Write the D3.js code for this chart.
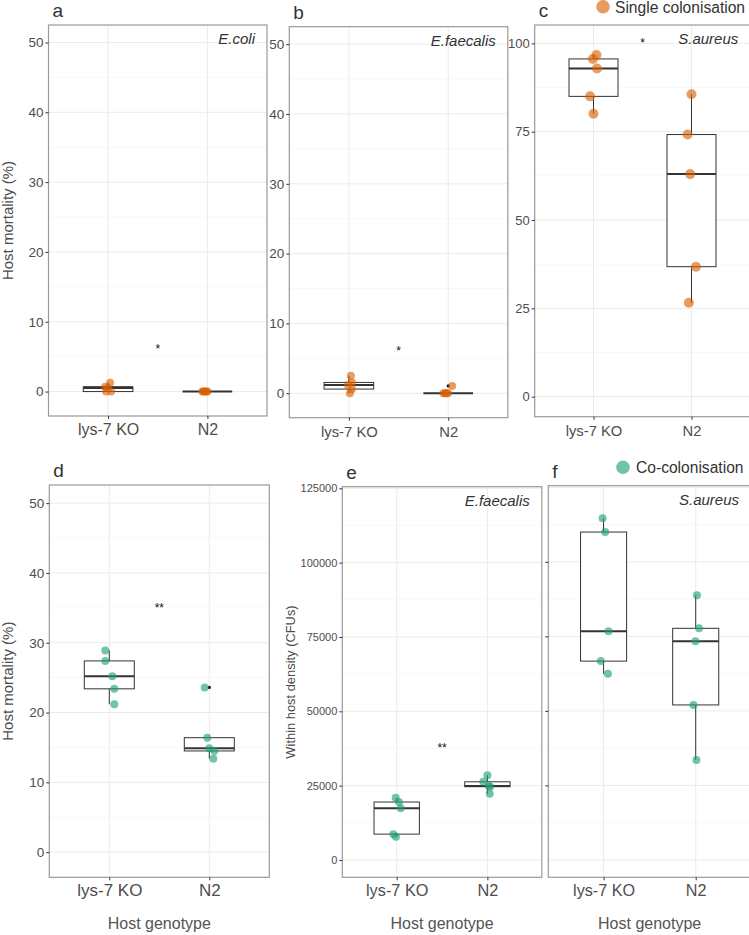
<!DOCTYPE html>
<html>
<head>
<meta charset="utf-8">
<script src="https://cdn.jsdelivr.net/npm/d3@7"></script>
<style>
  body { margin: 0; background: #fff; }
  svg { display: block; font-family: "Liberation Sans", Arial, sans-serif; }
</style>
</head>
<body>
<div id="container"></div>
<script>
// Categories
const genotypes = ["lys-7 KO", "N2"];

// Single colonisation, host mortality (%)
const ecoliKO = [0, 0, 0.5, 0.7, 1.25];
const ecoliN2 = [0, 0, 0, 0, 0];
const efaecalisKO = [0, 0.6, 1.2, 1.55, 2.5];
const efaecalisN2 = [0, 0, 0, 0, 1.05];
const saureusKO = [80.1, 85.0, 92.9, 95.6, 96.7];
const saureusN2 = [26.6, 36.8, 63.0, 74.2, 85.6];

// Co-colonisation
const coMortKO = [21.2, 23.4, 25.2, 27.4, 28.9];
const coMortN2 = [13.4, 14.5, 14.9, 16.4, 23.6];
const coEfaecalisKO = [7800, 8700, 17400, 19500, 20900];
const coEfaecalisN2 = [22300, 24650, 24900, 26300, 28500];
const coSaureusKO = [62450, 66700, 76700, 110000, 114600];
const coSaureusN2 = [33500, 52000, 73400, 77700, 88800];

// Horizontal jitter of each point (in category units), same order as values
const jitEcoliKO = [-0.02, 0.03, 0.0, -0.03, 0.02];
const jitEcoliN2 = [-0.05, -0.03, -0.01, 0.0, -0.04];
const jitEfaecalisKO = [0.01, 0.03, -0.01, 0.03, 0.02];
const jitEfaecalisN2 = [-0.05, -0.03, -0.02, 0.0, 0.04];
const jitSaureusKO = [0, -0.035, 0.035, -0.006, 0.03];
const jitSaureusN2 = [-0.027, 0.045, -0.013, -0.04, 0];
const jitCoMortKO = [0.05, 0.05, 0.03, -0.04, -0.04];
const jitCoMortN2 = [0.04, 0.05, 0, -0.02, -0.046];
const jitCoEfKO = [-0.008, -0.037, 0.044, 0.025, -0.011];
const jitCoEfN2 = [0.026, 0.03, 0.015, -0.044, 0];
const jitCoSaKO = [0.047, -0.03, 0.054, 0.017, -0.011];
const jitCoSaN2 = [0.008, -0.025, -0.003, 0.036, 0.014];

// Tick values
const mortTicks = [0, 10, 20, 30, 40, 50];
const saureusTicks = [0, 25, 50, 75, 100];
const cfuTicks = [0, 25000, 50000, 75000, 100000, 125000];

// Significance labels (text, y value)
const sigText = ["*", "*", "*", "**", "**"];
const sigY = [6.4, 6.4, 100.8, 35.4, 38400];

const width = 749;
const height = 935;

const orange = "#D95F02";
const green = "#1B9E77";

const svg = d3
  .select("#container")
  .append("svg")
  .attr("width", width)
  .attr("height", height);

// Panel definitions (layout + which data to draw)
const panels = [
  { tag: "a", x0: 48.5, x1: 267, y0: 25, y1: 416, domain: [-3.5, 52.5], ticks: mortTicks,
    ko: ecoliKO, n2: ecoliN2, jko: jitEcoliKO, jn2: jitEcoliN2, color: orange, r: 4,
    species: "E.coli", sig: 0, yTitle: "Host mortality (%)", tickFont: 13.5, catFont: 16 },
  { tag: "b", x0: 289.3, x1: 507.8, y0: 26.7, y1: 417.7, domain: [-3.5, 52.5], ticks: mortTicks,
    ko: efaecalisKO, n2: efaecalisN2, jko: jitEfaecalisKO, jn2: jitEfaecalisN2, color: orange, r: 4,
    species: "E.faecalis", sig: 1, tickFont: 13.5, catFont: 14.8 },
  { tag: "c", x0: 534.7, x1: 750.3, y0: 25, y1: 416.7, domain: [-5.66, 105.2], ticks: saureusTicks,
    ko: saureusKO, n2: saureusN2, jko: jitSaureusKO, jn2: jitSaureusN2, color: orange, r: 5,
    species: "S.aureus", sig: 2, tickFont: 13, catFont: 14.8 },
  { tag: "d", x0: 49.3, x1: 269.3, y0: 485, y1: 877.3, domain: [-3.6, 52.6], ticks: mortTicks,
    ko: coMortKO, n2: coMortN2, jko: jitCoMortKO, jn2: jitCoMortN2, color: green, r: 4,
    sig: 3, yTitle: "Host mortality (%)", tickFont: 13.5, catFont: 17, xTitle: true },
  { tag: "e", x0: 342.3, x1: 541.8, y0: 486.7, y1: 877.3, domain: [-5818, 125540], ticks: cfuTicks,
    ko: coEfaecalisKO, n2: coEfaecalisN2, jko: jitCoEfKO, jn2: jitCoEfN2, color: green, r: 4,
    species: "E.faecalis", sig: 4, yTitle: "Within host density (CFUs)", tickFont: 11, catFont: 16.3,
    xTitle: true },
  { tag: "f", x0: 548.3, x1: 751, y0: 485.7, y1: 877.3, domain: [-5818, 125540], ticks: cfuTicks,
    ko: coSaureusKO, n2: coSaureusN2, jko: jitCoSaKO, jn2: jitCoSaN2, color: green, r: 4,
    species: "S.aureus", noLabels: true, catFont: 16.2, xTitle: true },
];

const boxStats = (vals) => {
  const s = vals.slice().sort(d3.ascending);
  const q1 = d3.quantile(s, 0.25);
  const med = d3.quantile(s, 0.5);
  const q3 = d3.quantile(s, 0.75);
  const iqr = q3 - q1;
  const lo = d3.min(s.filter((v) => v >= q1 - 1.5 * iqr));
  const hi = d3.max(s.filter((v) => v <= q3 + 1.5 * iqr));
  const out = s.filter((v) => v < q1 - 1.5 * iqr || v > q3 + 1.5 * iqr);
  return { q1, med, q3, lo, hi, out };
};

panels.forEach((p) => {
  const g = svg.append("g");

  const x = d3.scaleLinear().domain([0.4, 2.6]).range([p.x0, p.x1]);
  const y = d3.scaleLinear().domain(p.domain).range([p.y1, p.y0]);
  const catX = (i) => x(i + 1);

  // clip path so marks stay in the panel
  const clipId = "clip-" + p.tag;
  svg.append("clipPath").attr("id", clipId)
    .append("rect").attr("x", p.x0).attr("y", p.y0)
    .attr("width", p.x1 - p.x0).attr("height", p.y1 - p.y0);

  const inner = g.append("g").attr("clip-path", `url(#${clipId})`);

  // Minor gridlines
  const minor = d3.pairs(p.ticks).map(([a, b]) => (a + b) / 2);
  inner.selectAll(".minor").data(minor).enter().append("line")
    .attr("x1", p.x0).attr("x2", p.x1)
    .attr("y1", (d) => y(d)).attr("y2", (d) => y(d))
    .attr("stroke", "#f3f3f3").attr("stroke-width", 0.6);

  // Major gridlines
  inner.selectAll(".major").data(p.ticks).enter().append("line")
    .attr("x1", p.x0).attr("x2", p.x1)
    .attr("y1", (d) => y(d)).attr("y2", (d) => y(d))
    .attr("stroke", "#ebebeb").attr("stroke-width", 1);
  inner.selectAll(".vmajor").data(genotypes).enter().append("line")
    .attr("x1", (d, i) => catX(i)).attr("x2", (d, i) => catX(i))
    .attr("y1", p.y0).attr("y2", p.y1)
    .attr("stroke", "#ebebeb").attr("stroke-width", 1);

  // Boxplots
  [p.ko, p.n2].forEach((vals, i) => {
    const st = boxStats(vals);
    const cx = catX(i);
    const hw = (x(1.25) - x(1)) ;
    inner.append("line")
      .attr("x1", cx).attr("x2", cx)
      .attr("y1", y(st.hi)).attr("y2", y(st.q3))
      .attr("stroke", "#333").attr("stroke-width", 1);
    inner.append("line")
      .attr("x1", cx).attr("x2", cx)
      .attr("y1", y(st.q1)).attr("y2", y(st.lo))
      .attr("stroke", "#333").attr("stroke-width", 1);
    inner.append("rect")
      .attr("x", cx - hw).attr("width", 2 * hw)
      .attr("y", y(st.q3)).attr("height", Math.max(0, y(st.q1) - y(st.q3)))
      .attr("fill", "white").attr("stroke", "#333").attr("stroke-width", 1);
    inner.append("line")
      .attr("x1", cx - hw).attr("x2", cx + hw)
      .attr("y1", y(st.med)).attr("y2", y(st.med))
      .attr("stroke", "#333").attr("stroke-width", 2);
    inner.selectAll(null).data(st.out).enter().append("circle")
      .attr("cx", cx).attr("cy", (d) => y(d)).attr("r", 1.6)
      .attr("fill", "#111");
  });

  // Points
  [[p.ko, p.jko], [p.n2, p.jn2]].forEach(([vals, jit], i) => {
    inner.selectAll(null).data(vals).enter().append("circle")
      .attr("cx", (d, k) => x(i + 1 + jit[k]))
      .attr("cy", (d) => y(d))
      .attr("r", p.r)
      .attr("fill", p.color)
      .attr("fill-opacity", 0.62);
  });

  // Significance stars
  if (p.sig !== undefined) {
    g.append("text")
      .attr("x", x(1.5)).attr("y", y(sigY[p.sig]))
      .attr("dy", "0.55em")
      .attr("text-anchor", "middle")
      .attr("font-size", 12)
      .attr("fill", "#111")
      .text(sigText[p.sig]);
  }

  // Species label
  if (p.species) {
    g.append("text")
      .attr("x", p.x1 - 12).attr("y", p.y0 + 19)
      .attr("text-anchor", "end")
      .attr("font-size", 15)
      .attr("font-style", "italic")
      .attr("fill", "#333")
      .text(p.species);
  }

  // Panel border
  g.append("rect")
    .attr("x", p.x0).attr("y", p.y0)
    .attr("width", p.x1 - p.x0).attr("height", p.y1 - p.y0)
    .attr("fill", "none").attr("stroke", "#999").attr("stroke-width", 1.2);

  // Y axis
  const yAxis = d3.axisLeft(y).tickValues(p.ticks).tickSize(3).tickSizeOuter(0).tickPadding(2);
  if (p.noLabels) yAxis.tickFormat("").tickValues(p.ticks.filter((t) => t > 0 && t < 125000));
  else yAxis.tickFormat(d3.format("d"));
  const ya = g.append("g").attr("transform", `translate(${p.x0},0)`).call(yAxis);
  ya.select(".domain").remove();
  ya.selectAll("line").attr("stroke", "#333");
  ya.selectAll("text").attr("fill", "#4d4d4d").attr("font-size", p.tickFont || 13)
    .attr("font-family", "Liberation Sans, Arial, sans-serif");

  // X axis
  const xAxis = d3.axisBottom(x).tickValues([1, 2]).tickSize(3).tickSizeOuter(0).tickPadding(4)
    .tickFormat((d) => genotypes[d - 1]);
  const xa = g.append("g").attr("transform", `translate(0,${p.y1})`).call(xAxis);
  xa.select(".domain").remove();
  xa.selectAll("line").attr("stroke", "#333");
  xa.selectAll("text").attr("fill", "#4d4d4d").attr("font-size", p.catFont)
    .attr("font-family", "Liberation Sans, Arial, sans-serif")
    .attr("dy", null).attr("y", 19 - p.catFont * 0.0).attr("dominant-baseline", "alphabetic");

  // Panel tag
  g.append("text")
    .attr("x", p.x0 + 4).attr("y", p.y0 - 8)
    .attr("font-size", 19)
    .attr("fill", "#333")
    .text(p.tag);

  // Axis titles
  if (p.yTitle) {
    const tx = p.tag === "e" ? p.x0 - 47 : 13;
    g.append("text")
      .attr("transform", `translate(${tx},${(p.y0 + p.y1) / 2}) rotate(-90)`)
      .attr("text-anchor", "middle")
      .attr("font-size", p.tag === "e" ? 12.9 : 15)
      .attr("fill", "#4d4d4d")
      .text(p.yTitle);
  }
  if (p.xTitle) {
    g.append("text")
      .attr("x", x(1.5)).attr("y", 929)
      .attr("text-anchor", "middle")
      .attr("font-size", 16)
      .attr("fill", "#555")
      .text("Host genotype");
  }
});

// Legends
const legend = svg.append("g").attr("id", "legend");
const legendData = [
  { label: "Single colonisation", color: orange, cx: 603, cy: 6.7, tx: 615, ty: 12.5 },
  { label: "Co-colonisation", color: green, cx: 623, cy: 467.3, tx: 636, ty: 473 },
];
legend.selectAll("circle").data(legendData).enter().append("circle")
  .attr("cx", (d) => d.cx).attr("cy", (d) => d.cy).attr("r", 6.8)
  .attr("fill", (d) => d.color).attr("fill-opacity", 0.62);
legend.selectAll("text").data(legendData).enter().append("text")
  .attr("x", (d) => d.tx).attr("y", (d) => d.ty)
  .attr("font-size", 15.6).attr("fill", "#333")
  .text((d) => d.label);
</script>
</body>
</html>
